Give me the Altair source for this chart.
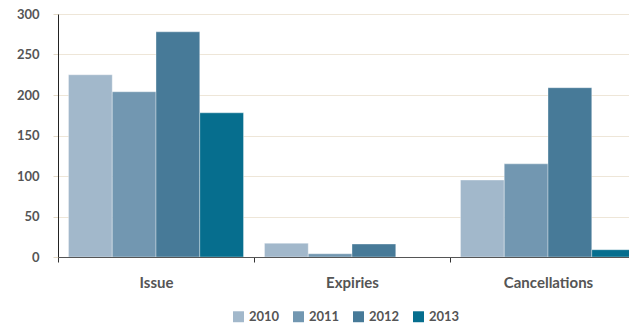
import altair as alt
import pandas as pd

categories = ["Issue", "Expiries", "Cancellations"]
years = ["2010", "2011", "2012", "2013"]
values = {
    "2010": [225, 17, 95],
    "2011": [204, 4, 115],
    "2012": [278, 16, 209],
    "2013": [178, 0, 9],
}
colors = ["#a2b8cb", "#7297b1", "#477a98", "#066e8e"]

rows = []
for y in years:
    for c, v in zip(categories, values[y]):
        rows.append({"category": c, "year": y, "value": v})
df = pd.DataFrame(rows)

FONT = "Lato"
TXT = "#555555"

chart = alt.Chart(df).mark_bar(
    clip=True, stroke="white", strokeOpacity=0.35, strokeWidth=1
).encode(
    x=alt.X(
        "category:N",
        sort=categories,
        title=None,
        scale=alt.Scale(range=[0, 588], paddingInner=0.107, paddingOuter=0.0535),
        axis=alt.Axis(
            labelAngle=0,
            tickOffset=-98,
            labelOffset=98,
            tickSize=5,
            tickColor="#333333",
            domainColor="#555555",
            labelFont=FONT,
            labelFontSize=15,
            labelFontWeight="bold",
            labelColor=TXT,
            labelPadding=13,
            grid=False,
        ),
    ),
    xOffset=alt.XOffset("year:N", sort=years),
    y=alt.Y(
        "value:Q",
        title=None,
        scale=alt.Scale(domain=[0, 300], nice=False),
        axis=alt.Axis(
            values=[0, 50, 100, 150, 200, 250, 300],
            tickSize=5,
            tickColor="#e3d9c6",
            gridColor="#eee6d8",
            domainColor="#222222",
            labelFont=FONT,
            labelFontSize=13,
            labelFontWeight="bold",
            labelColor=TXT,
            labelPadding=14,
        ),
    ),
    color=alt.Color(
        "year:N",
        sort=years,
        scale=alt.Scale(domain=years, range=colors),
        legend=alt.Legend(
            title=None,
            orient="none",
            legendX=174,
            legendY=296,
            direction="horizontal",
            symbolType="square",
            symbolSize=120,
            symbolStrokeWidth=0,
            labelFont=FONT,
            labelFontSize=13,
            labelFontWeight="bold",
            labelColor=TXT,
            columnPadding=12,
            labelOffset=4,
        ),
    ),
).properties(
    width=571,
    height=243,
    autosize=alt.AutoSizeParams(type="none"),
    padding={"left": 58, "top": 14, "right": 0, "bottom": 69},
).configure_view(stroke=None)

chart.save("out.html", embed_options={"renderer": "svg", "actions": False})
